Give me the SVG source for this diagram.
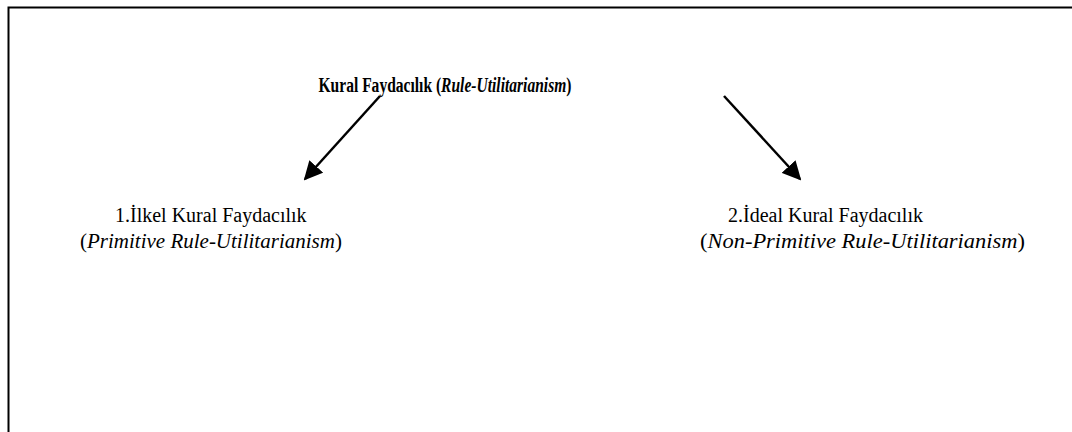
<svg xmlns="http://www.w3.org/2000/svg" width="1072" height="432" viewBox="0 0 1072 432">
<defs>
<style>
.t{font-family:"Liberation Serif","Times New Roman",serif;font-size:20px;fill:#000}
.s{font-size:21px}
.h{font-size:21px;font-weight:bold}
.i{font-style:italic}
.conn{stroke:#000;stroke-width:2.5;fill:none}
</style>
<marker id="ah" viewBox="0 0 10 10" refX="9" refY="5" markerWidth="7.5" markerHeight="7.5" markerUnits="strokeWidth" orient="auto">
<path d="M0,0 L10,5 L0,10 z" fill="#000"/>
</marker>
</defs>
<rect width="1072" height="432" fill="#fff"/>
<path d="M8.5,432 V7.5 H1072" fill="none" stroke="#000" stroke-width="2"/>
<g id="root">
<text class="t h" transform="translate(445,92) scale(0.74,1)" text-anchor="middle">Kural Faydacılık (<tspan class="i">Rule-Utilitarianism</tspan>)</text>
</g>
<g id="primitive">
<text class="t" x="115" y="222">1.İlkel Kural Faydacılık</text>
<text class="t s" x="80" y="248">(<tspan class="i">Primitive Rule-Utilitarianism</tspan>)</text>
</g>
<g id="ideal">
<text class="t" x="728" y="222">2.İdeal Kural Faydacılık</text>
<text class="t s" x="700" y="248" textLength="325" lengthAdjust="spacingAndGlyphs">(<tspan class="i">Non-Primitive Rule-Utilitarianism</tspan>)</text>
</g>
<g id="connectors">
<line class="conn" x1="380" y1="96" x2="305" y2="179" marker-end="url(#ah)"/>
<line class="conn" x1="724" y1="96" x2="800" y2="179" marker-end="url(#ah)"/>
</g>
</svg>
